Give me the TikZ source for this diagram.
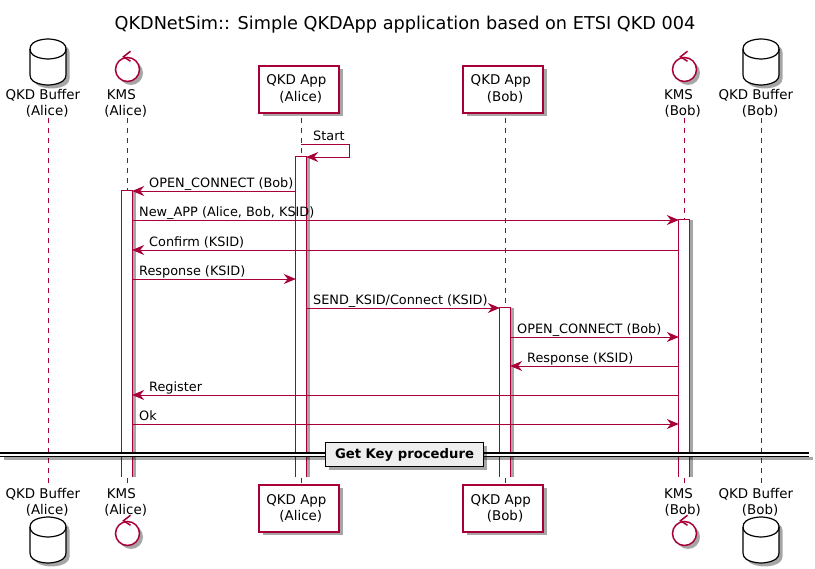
\documentclass[tikz,border=0pt]{standalone}
\usepackage{fontspec}
\setmainfont{DejaVu Sans}
\usepackage{xcolor}
\usepackage{tikz}
\usetikzlibrary{shapes, arrows.meta, positioning, shadows}
\definecolor{umlred}{HTML}{A80036}
\definecolor{umlgray}{HTML}{EEEEEE}
\newcommand{\gapsp}{\kern4.3pt\relax}

\begin{document}
\begin{tikzpicture}
  [
    x=1pt, y=-1pt,
    Soft/.style={drop shadow={shadow xshift=3.5pt, shadow yshift=-3.5pt, fill=black, opacity=0.35}},
    Side/.style={drop shadow={shadow xshift=3.5pt, shadow yshift=0pt, fill=black, opacity=0.35}},
    Label/.style={inner sep=0pt, align=center, font=\fontsize{13.4}{16.2}\selectfont},
    Db/.pic={
      \path[draw=black, fill=white, line width=1.2pt, Soft] (-18,-13) .. controls (-18,-23) and (0,-23) .. (0,-23) .. controls (0,-23) and (18,-23) .. (18,-13) -- (18,13) .. controls (18,23) and (0,23) .. (0,23) .. controls (0,23) and (-18,23) .. (-18,13) -- cycle;
      \path[draw=black, line width=1.2pt] (-18,-13) .. controls (-18,-3) and (0,-3) .. (0,-3) .. controls (0,-3) and (18,-3) .. (18,-13);
    },
    Ctrl/.style={circle, draw=umlred, fill=white, line width=1.5pt, minimum size=24pt, inner sep=0pt, Soft},
    App/.style={rectangle, draw=umlred, fill=white, line width=1.3pt, minimum width=80pt, minimum height=47pt, inner sep=0pt, Soft},
    Act/.style={rectangle, fill=white, minimum width=10pt, inner sep=0pt, Side},
    Life/.style={draw=umlred, line width=0.9pt, dash pattern=on 5pt off 5pt},
    Edge/.style={draw=umlred, line width=0.9pt},
    Msg/.style={Edge, -{Stealth[length=12pt, width=10pt, inset=4pt]}},
    Txt/.style={anchor=base west, inner sep=0pt, font=\fontsize{12.85}{15}\selectfont},
    Rail/.style={rectangle, fill=white, minimum width=809pt, minimum height=3.4pt, inner sep=0pt, Soft},
    Sep/.style={rectangle, draw=black, fill=umlgray, line width=1.8pt, minimum width=158pt, minimum height=24pt, inner sep=0pt, text height=9.5pt, text depth=0.5pt, font=\fontsize{13.2}{15}\bfseries\selectfont, Soft}
  ]
  \useasboundingbox (0,0) rectangle (815,569);

  % Title
  \node[anchor=base, inner sep=0pt, font=\fontsize{17.7}{21}\selectfont] (title) at (405, 30) {QKDNetSim:: Simple QKDApp application based on ETSI QKD 004};

  % Lifeline ends
  \coordinate (bufAtop) at (48, 118);   \coordinate (bufAend) at (48, 484);
  \coordinate (kmsAtop) at (127, 118);  \coordinate (kmsAend) at (127, 484);
  \coordinate (appAtop) at (301, 118);  \coordinate (appAend) at (301, 484);
  \coordinate (appBtop) at (505, 118);  \coordinate (appBend) at (505, 484);
  \coordinate (kmsBtop) at (684.5, 118); \coordinate (kmsBend) at (684.5, 484);
  \coordinate (bufBtop) at (761, 118);  \coordinate (bufBend) at (761, 484);

  % Lines
  \path [Life] (bufAtop) -- (bufAend);
  \path [Life] (kmsAtop) -- (kmsAend);
  \path [Life] (appAtop) -- (appAend);
  \path [Life] (appBtop) -- (appBend);
  \path [Life] (kmsBtop) -- (kmsBend);
  \path [Life] (bufBtop) -- (bufBend);

  % Heads
  \pic (bufAhead) at (48, 62) {Db};
  \node[Ctrl] (kmsAhead) at (127.5, 69.5) {};
  \node[App] (appAhead) at (299, 89.5) {};
  \node[App] (appBhead) at (503, 89.5) {};
  \node[Ctrl] (kmsBhead) at (684.5, 69.5) {};
  \pic (bufBhead) at (761, 62) {Db};

  % Tails
  \pic (bufAtail) at (48, 540) {Db};
  \node[Ctrl] (kmsAtail) at (127.5, 533.5) {};
  \node[App] (appAtail) at (299, 508.5) {};
  \node[App] (appBtail) at (503, 508.5) {};
  \node[Ctrl] (kmsBtail) at (684.5, 533.5) {};
  \pic (bufBtail) at (761, 540) {Db};

  % Control marks
  \foreach \n in {kmsAhead, kmsBhead, kmsAtail, kmsBtail}
    \draw[umlred, line width=1.5pt] ([shift={(3,-5.5)}]\n.north) -- ([shift={(-4,0)}]\n.north) -- ([shift={(3,4.5)}]\n.north);

  % Names
  \node[Label] (bufAname) at (45, 103.3) {QKD Buffer\gapsp\\\gapsp(Alice)};
  \node[Label] (kmsAname) at (123.5, 103.3) {KMS\gapsp\\\gapsp(Alice)};
  \node[Label] (appAname) at (298.6, 89) {QKD App\gapsp\\\gapsp(Alice)};
  \node[Label] (appBname) at (502.9, 89) {QKD App\gapsp\\\gapsp(Bob)};
  \node[Label] (kmsBname) at (680.6, 103.3) {KMS\gapsp\\\gapsp(Bob)};
  \node[Label] (bufBname) at (758, 103.3) {QKD Buffer\gapsp\\\gapsp(Bob)};
  \node[Label] (bufAfoot) at (45, 502.3) {QKD Buffer\gapsp\\\gapsp(Alice)};
  \node[Label] (kmsAfoot) at (123.5, 502.3) {KMS\gapsp\\\gapsp(Alice)};
  \node[Label] (appAfoot) at (298.6, 508.3) {QKD App\gapsp\\\gapsp(Alice)};
  \node[Label] (appBfoot) at (502.9, 508.3) {QKD App\gapsp\\\gapsp(Bob)};
  \node[Label] (kmsBfoot) at (680.6, 502.3) {KMS\gapsp\\\gapsp(Bob)};
  \node[Label] (bufBfoot) at (758, 502.3) {QKD Buffer\gapsp\\\gapsp(Bob)};

  % Activations
  \node[Act, minimum height=320pt] (actApp) at (301, 317) {};
  \node[Act, minimum height=286pt] (actKmsA) at (127, 334) {};
  \node[Act, minimum height=169pt] (actAppB) at (505, 392.5) {};
  \node[Act, minimum height=257pt] (actKmsB) at (684, 348.5) {};
  \foreach \n in {actApp, actKmsA, actAppB, actKmsB}
    \path[Edge] (\n.south west) -- (\n.north west) -- (\n.north east) -- (\n.south east);

  % Messages
  \path[Msg] (appAtop |- 0,144) -- (349,144) -- (349,157) -- (actApp.east |- 0,157);
  \path[Msg] (actApp.west |- 0,191) -- (actKmsA.east |- 0,191);
  \path[Msg] (actKmsA.east |- 0,220) -- (actKmsB.west |- 0,220);
  \path[Msg] (actKmsB.west |- 0,250) -- (actKmsA.east |- 0,250);
  \path[Msg] (actKmsA.east |- 0,279) -- (actApp.west |- 0,279);
  \path[Msg] (actApp.east |- 0,308) -- (actAppB.west |- 0,308);
  \path[Msg] (actAppB.east |- 0,337) -- (actKmsB.west |- 0,337);
  \path[Msg] (actKmsB.west |- 0,366) -- (actAppB.east |- 0,366);
  \path[Msg] (actKmsB.west |- 0,395) -- (actKmsA.east |- 0,395);
  \path[Msg] (actKmsA.east |- 0,424) -- (actKmsB.west |- 0,424);

  % Message texts
  \node[Txt] (t1) at (313, 140.5) {Start};
  \node[Txt] (t2) at (149, 188) {OPEN\_CONNECT (Bob)};
  \node[Txt] (t3) at (139, 217) {New\_APP (Alice, Bob, KSID)};
  \node[Txt] (t4) at (149, 246.5) {Confirm (KSID)};
  \node[Txt] (t5) at (139, 275.5) {Response (KSID)};
  \node[Txt] (t6) at (313, 304.5) {SEND\_KSID/Connect (KSID)};
  \node[Txt] (t7) at (517, 333.5) {OPEN\_CONNECT (Bob)};
  \node[Txt] (t8) at (527, 362.5) {Response (KSID)};
  \node[Txt] (t9) at (149, 391.5) {Register};
  \node[Txt] (t10) at (139, 420.5) {Ok};

  % Divider
  \node[Rail] (rail) at (404.5, 455) {};
  \draw[black, line width=1.2pt] (rail.north west) -- (rail.north east);
  \draw[black, line width=1.2pt] (rail.south west) -- (rail.south east);
  \node[Sep] (sep) at (404.5, 454.5) {Get Key procedure\hspace{7pt}};
\end{tikzpicture}
\end{document}
